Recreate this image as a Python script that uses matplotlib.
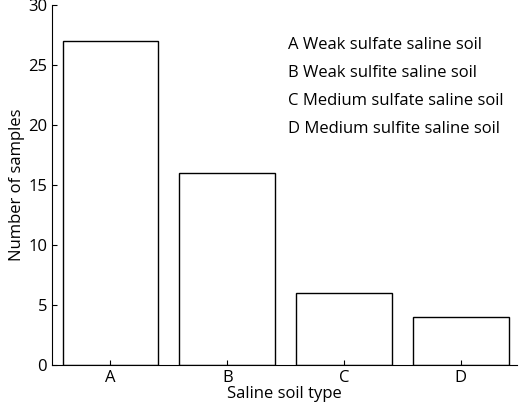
import matplotlib.pyplot as plt

plt.rcParams['font.family'] = ['Open Sans', 'DejaVu Sans']

categories = ["A", "B", "C", "D"]
counts = [27, 16, 6, 4]
legend_lines = [
    "A Weak sulfate saline soil",
    "B Weak sulfite saline soil",
    "C Medium sulfate saline soil",
    "D Medium sulfite saline soil",
]

fig = plt.figure(figsize=(5.2, 4.08), dpi=100)
ax = fig.add_axes([0.1, 0.105, 0.894, 0.882])
ax.bar(range(len(categories)), counts, width=0.82, color="white",
       edgecolor="black", linewidth=1.0)
ax.set_xticks(range(len(categories)))
ax.set_xticklabels(categories)
ax.set_xlim(-0.5, 3.48)
ax.set_ylim(0, 30)
ax.set_yticks(range(0, 31, 5))
ax.spines["top"].set_visible(False)
ax.spines["right"].set_visible(False)
ax.tick_params(direction="in", labelsize=12)
ax.set_xlabel("Saline soil type", fontsize=12, labelpad=0)
ax.set_ylabel("Number of samples", fontsize=12, labelpad=2)

for i, line in enumerate(legend_lines):
    ax.text(0.507, 0.889 - i * 0.078, line, transform=ax.transAxes,
            fontsize=12, va="center")

fig.savefig("out.png")
